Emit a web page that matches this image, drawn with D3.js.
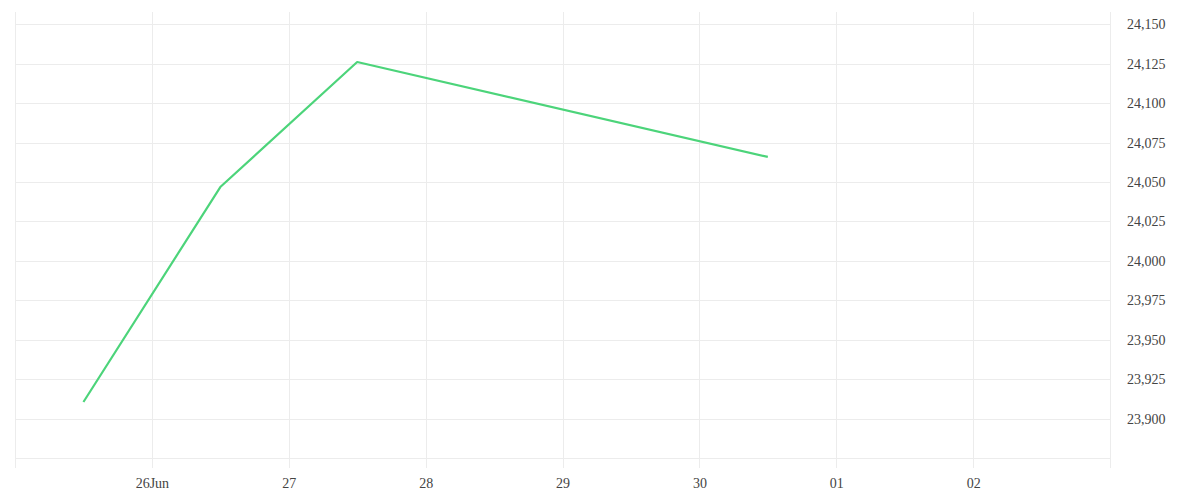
<!DOCTYPE html>
<html>
<head>
<meta charset="utf-8">
<script src="https://cdn.jsdelivr.net/npm/d3@7"></script>
<style>
  html, body { margin: 0; padding: 0; background: #fff; }
  svg text { font-family: "Liberation Serif", serif; font-size: 14px; fill: #444; }
</style>
</head>
<body>
<svg id="chart" width="1200" height="500"></svg>
<script>
// Data
const dates = ["2025-06-25T12:00", "2025-06-26T12:00", "2025-06-27T12:00", "2025-06-30T12:00"];
const values = [23910.5, 24046.8, 24126.1, 24065.9];
const xTickDates = ["2025-06-26", "2025-06-27", "2025-06-28", "2025-06-29", "2025-06-30", "2025-07-01", "2025-07-02"];
const xTickLabels = ["26Jun", "27", "28", "29", "30", "01", "02"];
const xGridDates = ["2025-06-25", "2025-06-26", "2025-06-27", "2025-06-28", "2025-06-29", "2025-06-30", "2025-07-01", "2025-07-02", "2025-07-03"];
const yTicks = [23900, 23925, 23950, 23975, 24000, 24025, 24050, 24075, 24100, 24125, 24150];
const yGrid = [23875, 23900, 23925, 23950, 23975, 24000, 24025, 24050, 24075, 24100, 24125, 24150];

(function () {
const parse = d3.timeParse("%Y-%m-%dT%H:%M");
const parseDay = d3.timeParse("%Y-%m-%d");
const points = dates.map((d, i) => ({ date: parse(d), value: values[i] }));

const pLeft = 15, pRight = 1110, pTop = 12, pBottom = 467;
const x = d3.scaleTime()
  .domain([parseDay("2025-06-25"), parseDay("2025-07-03")])
  .range([pLeft, pRight]);
const y = d3.scaleLinear()
  .domain([23869.3, 24157.8])
  .range([pBottom, pTop]);

const svg = d3.select("#chart");
const gridColor = "#ececec";

// horizontal gridlines
svg.append("g").selectAll("line").data(yGrid).join("line")
  .attr("x1", pLeft).attr("x2", pRight)
  .attr("y1", d => Math.round(y(d)) + 0.5).attr("y2", d => Math.round(y(d)) + 0.5)
  .attr("stroke", gridColor).attr("stroke-width", 1);

// vertical gridlines (extend as ticks)
svg.append("g").selectAll("line").data(xGridDates.map(parseDay)).join("line")
  .attr("x1", d => Math.round(x(d)) + 0.5).attr("x2", d => Math.round(x(d)) + 0.5)
  .attr("y1", pTop).attr("y2", 468)
  .attr("stroke", gridColor).attr("stroke-width", 1);

// x-axis labels
const xAxis = d3.axisBottom(x)
  .tickValues(xTickDates.map(parseDay))
  .tickFormat((d, i) => xTickLabels[i])
  .tickSize(0).tickPadding(0);
const gx = svg.append("g").attr("transform", "translate(0,478)").call(xAxis);
gx.select(".domain").remove();
gx.selectAll("text").attr("dy", "0.71em").style("font-family", "Liberation Serif, serif").style("font-size", "14px").attr("fill", "#444");

// y-axis labels
const yAxis = d3.axisRight(y)
  .tickValues(yTicks)
  .tickFormat(d3.format(","))
  .tickSize(0).tickPadding(0);
const gy = svg.append("g").attr("transform", "translate(1127,0)").call(yAxis);
gy.select(".domain").remove();
gy.selectAll("text").style("font-family", "Liberation Serif, serif").style("font-size", "14px").attr("fill", "#444");

// line
const line = d3.line().x(d => x(d.date)).y(d => y(d.value));
svg.append("path").datum(points)
  .attr("d", line)
  .attr("fill", "none")
  .attr("stroke", "#4cd47a")
  .attr("stroke-width", 2.2)
  .attr("stroke-linejoin", "round");
})();
</script>
</body>
</html>
